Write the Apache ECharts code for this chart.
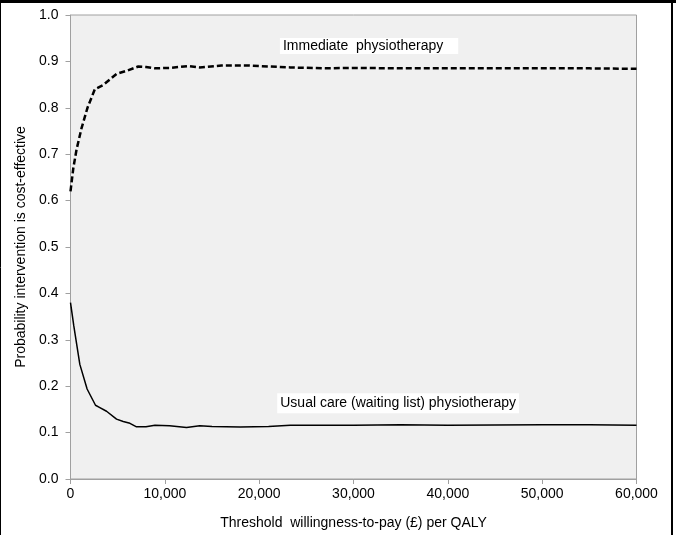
<!DOCTYPE html>
<html>
<head>
<meta charset="utf-8">
<script src="https://cdn.jsdelivr.net/npm/echarts@6/dist/echarts.min.js"></script>
<style>
html,body{margin:0;padding:0;background:#fff;}
#chart{width:676px;height:535px;}
</style>
</head>
<body>
<div id="chart"></div>
<script>
// Willingness-to-pay thresholds (£) and probabilities
const immediateX = [0, 300, 640, 1170, 1800, 2580, 3460, 4880, 6000, 7180, 8000, 8950, 10500, 12480, 13700, 16000, 19000, 23300, 27000, 30000, 35000, 40000, 45000, 50000, 55000, 60000];
const immediateY = [0.62, 0.67, 0.71, 0.756, 0.80, 0.840, 0.849, 0.873, 0.880, 0.889, 0.888, 0.885, 0.886, 0.890, 0.887, 0.891, 0.891, 0.887, 0.885, 0.886, 0.885, 0.885, 0.885, 0.885, 0.885, 0.884];
const usualX = [0, 350, 990, 1760, 2650, 3110, 3820, 4880, 5590, 6300, 7000, 8000, 8950, 10500, 12300, 13700, 15000, 18000, 21000, 23300, 30000, 35000, 40000, 50000, 55000, 60000];
const usualY = [0.38, 0.33, 0.247, 0.194, 0.159, 0.154, 0.146, 0.129, 0.124, 0.120, 0.1125, 0.1125, 0.116, 0.115, 0.111, 0.115, 0.113, 0.112, 0.113, 0.116, 0.116, 0.117, 0.116, 0.117, 0.117, 0.116];
const seriesNames = ['Immediate  physiotherapy', 'Usual care (waiting list) physiotherapy'];
const xTitle = 'Threshold  willingness-to-pay (£) per QALY';
const yTitle = 'Probability intervention is cost-effective';
// label anchor positions (data coordinates)
const immediateLabelAt = [31650, 0.933];
const usualLabelAt = [34730, 0.163];

const zip = (xs, ys) => xs.map((x, i) => [x, ys[i]]);
const font = 'Arial, "Liberation Sans", sans-serif';

const chart = echarts.init(document.getElementById('chart'), null, {renderer: 'canvas'});
const labelStyle = {
  show: true, position: 'inside', color: '#000', fontFamily: font, fontSize: 14,
  backgroundColor: '#fff'
};
chart.setOption({
  animation: false,
  backgroundColor: '#fff',
  grid: {left: 70.5, right: 39.5, top: 15, bottom: 55, show: true,
    backgroundColor: '#f0f0f0', borderColor: '#a0a0a0', borderWidth: 1},
  xAxis: {
    type: 'value', min: 0, max: 60000, interval: 10000,
    name: xTitle, nameLocation: 'middle', nameGap: 37,
    nameTextStyle: {color: '#000', fontFamily: font, fontSize: 14},
    axisLine: {show: true, lineStyle: {color: '#a0a0a0'}},
    axisTick: {show: true, length: 5, lineStyle: {color: '#a0a0a0'}},
    splitLine: {show: false},
    axisLabel: {color: '#000', fontFamily: font, fontSize: 14, margin: 8,
      formatter: v => v.toLocaleString('en-US')}
  },
  yAxis: {
    type: 'value', min: 0, max: 1, interval: 0.1,
    name: yTitle, nameLocation: 'middle', nameGap: 42,
    nameTextStyle: {color: '#000', fontFamily: font, fontSize: 14},
    axisLine: {show: true, lineStyle: {color: '#a0a0a0'}},
    axisTick: {show: true, length: 5, lineStyle: {color: '#a0a0a0'}},
    splitLine: {show: false},
    axisLabel: {color: '#000', fontFamily: font, fontSize: 14, margin: 12,
      formatter: v => v.toFixed(1)}
  },
  series: [
    {
      name: seriesNames[0], type: 'line', data: zip(immediateX, immediateY),
      showSymbol: false, smooth: false,
      lineStyle: {color: '#000', width: 2.5, type: [6, 3]},
      markPoint: {symbol: 'rect', symbolSize: 0,
        data: [{coord: immediateLabelAt, value: seriesNames[0]}],
        label: Object.assign({}, labelStyle, {formatter: seriesNames[0], padding: [1, 15, 1, 3]})}
    },
    {
      name: seriesNames[1], type: 'line', data: zip(usualX, usualY),
      showSymbol: false, smooth: false,
      lineStyle: {color: '#000', width: 1.5},
      markPoint: {symbol: 'rect', symbolSize: 0,
        data: [{coord: usualLabelAt, value: seriesNames[1]}],
        label: Object.assign({}, labelStyle, {formatter: seriesNames[1], padding: [3, 3, 3, 3]})}
    }
  ],
  graphic: [
    {type: 'line', shape: {x1: 0, y1: 1.5, x2: 676, y2: 1.5}, style: {stroke: '#000', lineWidth: 3}},
    {type: 'line', shape: {x1: 0.5, y1: 0, x2: 0.5, y2: 535}, style: {stroke: '#000', lineWidth: 1}},
    {type: 'line', shape: {x1: 672, y1: 0, x2: 672, y2: 535}, style: {stroke: '#000', lineWidth: 2}}
  ]
});
</script>
</body>
</html>
